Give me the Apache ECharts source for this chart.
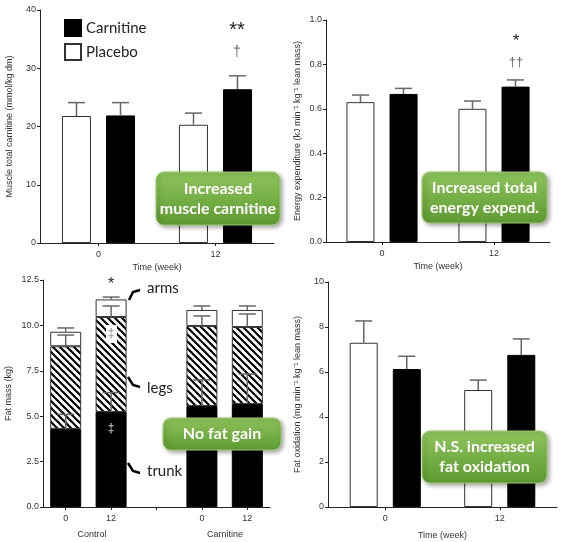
<!DOCTYPE html>
<html>
<head>
	<meta charset="utf-8">
	<title>Carnitine</title>
	<script src="https://cdn.jsdelivr.net/npm/echarts@6/dist/echarts.min.js"></script>
<style type="text/css">
html, body {
	margin: 0;
	padding: 0;
	background: #fff;
}
#chart {
	width: 570px;
	height: 542px;
}
</style>
</head>
<body>
	<div id="chart"></div>
<script type="text/javascript">
	// values
	var weeks = ['0', '12'];
	var mcPlacebo = [21.8, 20.3];
	var mcPlaceboErr = [2.3, 2.0];
	var mcCarn = [21.9, 26.4];
	var mcCarnErr = [2.2, 2.3];

	var eePlacebo = [0.63, 0.60];
	var eePlaceboErr = [0.032, 0.035];
	var eeCarn = [0.667, 0.70];
	var eeCarnErr = [0.025, 0.03];

	var foPlacebo = [7.3, 5.2];
	var foPlaceboErr = [0.97, 0.44];
	var foCarn = [6.13, 6.76];
	var foCarnErr = [0.57, 0.71];

	// fat mass: control 0, control 12, gap, carnitine 0, carnitine 12
	var fmCats = ['0', '12', '', '0', '12'];
	var trunk = [4.3, 5.23, null, 5.56, 5.67];
	var legs = [4.55, 5.23, null, 4.41, 4.24];
	var arms = [0.8, 0.97, null, 0.88, 0.94];
	var trunkErr = [0.8, 1.07, null, 1.44, 1.65];
	var legsErr = [0.62, 0.61, null, 0.55, 0.72];
	var armsErr = [0.21, 0.13, null, 0.22, 0.22];

	var AX = 'Liberation Sans';
	var CAL = 'Lato';

	// hatch pattern for the legs part
	var hatch = document.createElement('canvas');
	hatch.width = 7;
	hatch.height = 7;
	var hc = hatch.getContext('2d');
	hc.fillStyle = '#fff';
	hc.fillRect(0, 0, 7, 7);
	hc.strokeStyle = '#000';
	hc.lineWidth = 2.2;
	[-7, 0, 7].forEach(function (k) {
		hc.beginPath();
		hc.moveTo(k - 1, -1);
		hc.lineTo(k + 8, 8);
		hc.stroke();
	});

	function errData(vals, errs) {
		var out = [];
		for (var i = 0; i < vals.length; i++) {
			if (vals[i] == null) continue;
			out.push([i, vals[i], errs[i]]);
		}
		return out;
	}

	function errRender(offset, cap) {
		return function (params, api) {
			var x = api.value(0);
			var p0 = api.coord([x, api.value(1)]);
			var p1 = api.coord([x, api.value(1) + api.value(2)]);
			var cx = p0[0] + offset;
			var st = { stroke: '#666', lineWidth: 1.5 };
			return {
				type: 'group',
				children: [
					{ type: 'line', shape: { x1: cx, y1: p0[1], x2: cx, y2: p1[1] }, style: st },
					{ type: 'line', shape: { x1: cx - cap / 2, y1: p1[1], x2: cx + cap / 2, y2: p1[1] }, style: st }
				]
			};
		};
	}

	function errSeries(name, idx, vals, errs, offset) {
		return {
			name: name,
			type: 'custom',
			xAxisIndex: idx,
			yAxisIndex: idx,
			z: 5,
			silent: true,
			renderItem: errRender(offset, 17),
			encode: { x: 0, y: 1 },
			data: errData(vals, errs)
		};
	}

	// cumulative tops for the stacked bars
	var legsTop = [], armsTop = [];
	for (var i = 0; i < trunk.length; i++) {
		legsTop.push(trunk[i] == null ? null : trunk[i] + legs[i]);
		armsTop.push(trunk[i] == null ? null : trunk[i] + legs[i] + arms[i]);
	}

	function xAx(idx, cats, name, gap) {
		return {
			type: 'category',
			gridIndex: idx,
			data: cats,
			name: name,
			nameLocation: 'middle',
			nameGap: gap,
			nameTextStyle: { fontFamily: AX, fontSize: 9, color: '#333' },
			axisLine: { lineStyle: { color: '#222', width: 1 } },
			axisTick: { show: true, alignWithLabel: true, length: 3, lineStyle: { color: '#222' } },
			axisLabel: { fontFamily: AX, fontSize: 9, color: '#333', margin: 7 }
		};
	}

	function yAx(idx, max, step, name, gap, dec) {
		return {
			type: 'value',
			gridIndex: idx,
			min: 0,
			max: max,
			interval: step,
			name: name,
			nameLocation: 'middle',
			nameGap: gap,
			nameRotate: 90,
			nameTextStyle: { fontFamily: AX, fontSize: 9, color: '#333' },
			splitLine: { show: false },
			axisLine: { show: true, lineStyle: { color: '#222', width: 1 } },
			axisTick: { show: true, length: 3, lineStyle: { color: '#222' } },
			axisLabel: {
				fontFamily: AX, fontSize: 9, color: '#333', margin: 4,
				formatter: function (v) { return dec ? v.toFixed(dec) : String(v); }
			}
		};
	}

	var white = { color: '#fff', borderColor: '#333', borderWidth: 1 };
	var black = { color: '#000', borderColor: '#000', borderWidth: 1 };

	function pairSeries(idx, pl, ca, bw, gap) {
		return [
			{ name: 'Placebo', type: 'bar', xAxisIndex: idx, yAxisIndex: idx, barWidth: bw, barGap: gap, itemStyle: white, data: pl },
			{ name: 'Carnitine', type: 'bar', xAxisIndex: idx, yAxisIndex: idx, barWidth: bw, barGap: gap, itemStyle: black, data: ca }
		];
	}

	var green = new echarts.graphic.LinearGradient(0, 0, 0, 1, [
		{ offset: 0, color: '#8fc55c' },
		{ offset: 1, color: '#5c9a30' }
	]);

	function box(x, y, w, h, text, size) {
		return [
			{
				type: 'rect', z: 100,
				shape: { x: x, y: y, width: w, height: h, r: 8 },
				style: {
					fill: green, stroke: '#9ccc6e', lineWidth: 1,
					shadowBlur: 4, shadowOffsetX: 2, shadowOffsetY: 2, shadowColor: 'rgba(0,0,0,0.35)'
				}
			},
			{
				type: 'text', z: 101,
				x: x + w / 2, y: y + h / 2,
				style: {
					text: text, fill: '#fff', align: 'center', verticalAlign: 'middle',
					font: 'bold ' + size + 'px ' + CAL, lineHeight: size + 4,
					shadowBlur: 2, shadowColor: 'rgba(0,0,0,0.45)', shadowOffsetX: 1, shadowOffsetY: 1
				}
			}
		];
	}

	function txt(x, y, s, size, color, font) {
		return {
			type: 'text', z: 102, x: x, y: y,
			style: { text: s, fill: color, align: 'center', verticalAlign: 'middle', font: size + 'px ' + (font || AX) }
		};
	}

	function bracket(pts) {
		return { type: 'polyline', z: 102, shape: { points: pts }, style: { stroke: '#000', lineWidth: 2.5, fill: null } };
	}

	var graphics = []
		.concat(box(156, 172, 124, 53, 'Increased\nmuscle carnitine', 16))
		.concat(box(422, 172, 125, 51, 'Increased total\nenergy expend.', 16))
		.concat(box(163, 418, 118, 32, 'No fat gain', 16))
		.concat(box(422, 431, 125, 52, 'N.S. increased\nfat oxidation', 16))
		.concat([
			txt(237, 30, '**', 20, '#222'),
			txt(237, 52, '†', 14, '#666'),
			txt(516, 41, '*', 17, '#222'),
			txt(516, 62, '††', 13, '#666'),
			txt(111, 285, '*', 16, '#222'),
			{ type: 'rect', z: 101, shape: { x: 106, y: 325, width: 11, height: 18 }, style: { fill: '#fff' } },
			txt(111, 334, '‡', 12, '#888'),
			txt(111, 429, '‡', 12, '#ddd'),
			bracket([[129, 300], [133, 292], [140, 290]]),
			bracket([[128, 377], [133, 385], [140, 387]]),
			bracket([[128, 463], [133, 471], [140, 473]]),
			{ type: 'text', z: 102, x: 147, y: 288, style: { text: 'arms', fill: '#222', verticalAlign: 'middle', font: '15px ' + CAL } },
			{ type: 'text', z: 102, x: 147, y: 388, style: { text: 'legs', fill: '#222', verticalAlign: 'middle', font: '15px ' + CAL } },
			{ type: 'text', z: 102, x: 147, y: 471, style: { text: 'trunk', fill: '#222', verticalAlign: 'middle', font: '15px ' + CAL } },
			txt(92, 535, 'Control', 9, '#333'),
			txt(225, 535, 'Carnitine', 9, '#333')
		]);

	var chart = echarts.init(document.getElementById('chart'));

	var option = {
		animation: false,
		backgroundColor: '#fff',
		legend: {
			data: ['Carnitine', 'Placebo'],
			orient: 'vertical',
			left: 59,
			top: 14,
			itemWidth: 16,
			itemHeight: 16,
			itemGap: 6,
			icon: 'rect',
			selectedMode: false,
			textStyle: { fontFamily: CAL, fontSize: 15, color: '#222' }
		},
		grid: [
			{ left: 40, top: 10, width: 234, height: 233 },
			{ left: 326, top: 20, width: 224, height: 222 },
			{ left: 43, top: 280, width: 227, height: 227 },
			{ left: 328, top: 282, width: 229, height: 225 }
		],
		xAxis: [
			xAx(0, weeks, 'Time (week)', 20),
			xAx(1, weeks, 'Time (week)', 20),
			xAx(2, fmCats, '', 20),
			xAx(3, weeks, 'Time (week)', 24)
		],
		yAxis: [
			yAx(0, 40, 10, 'Muscle total carnitine (mmol/kg dm)', 26, 0),
			yAx(1, 1, 0.2, 'Energy expenditure (kJ min⁻¹ kg⁻¹ lean mass)', 24, 1),
			yAx(2, 12.5, 2.5, 'Fat mass (kg)', 30, 1),
			yAx(3, 10, 2, 'Fat oxidation (mg min⁻¹ kg⁻¹ lean mass)', 26, 0)
		],
		series: []
			.concat(pairSeries(0, mcPlacebo, mcCarn, 29, '52%'))
			.concat(pairSeries(1, eePlacebo, eeCarn, 28, '54%'))
			.concat(pairSeries(3, foPlacebo, foCarn, 28, '54%'))
			.concat([
				{ name: 'trunk', type: 'bar', stack: 'fm', xAxisIndex: 2, yAxisIndex: 2, barWidth: 31, itemStyle: black, data: trunk },
				{ name: 'legs', type: 'bar', stack: 'fm', xAxisIndex: 2, yAxisIndex: 2, barWidth: 31,
					itemStyle: { color: { image: hatch, repeat: 'repeat' }, borderColor: '#333', borderWidth: 1 }, data: legs },
				{ name: 'arms', type: 'bar', stack: 'fm', xAxisIndex: 2, yAxisIndex: 2, barWidth: 31, itemStyle: white, data: arms },
				errSeries('e1', 0, mcPlacebo, mcPlaceboErr, -22),
				errSeries('e2', 0, mcCarn, mcCarnErr, 22),
				errSeries('e3', 1, eePlacebo, eePlaceboErr, -21.5),
				errSeries('e4', 1, eeCarn, eeCarnErr, 21.5),
				errSeries('e5', 3, foPlacebo, foPlaceboErr, -21.5),
				errSeries('e6', 3, foCarn, foCarnErr, 21.5),
				errSeries('e7', 2, trunk, trunkErr, 0),
				errSeries('e8', 2, legsTop, legsErr, 0),
				errSeries('e9', 2, armsTop, armsErr, 0)
			]),
		graphic: graphics
	};

	chart.setOption(option);
</script>
</body>
</html>
